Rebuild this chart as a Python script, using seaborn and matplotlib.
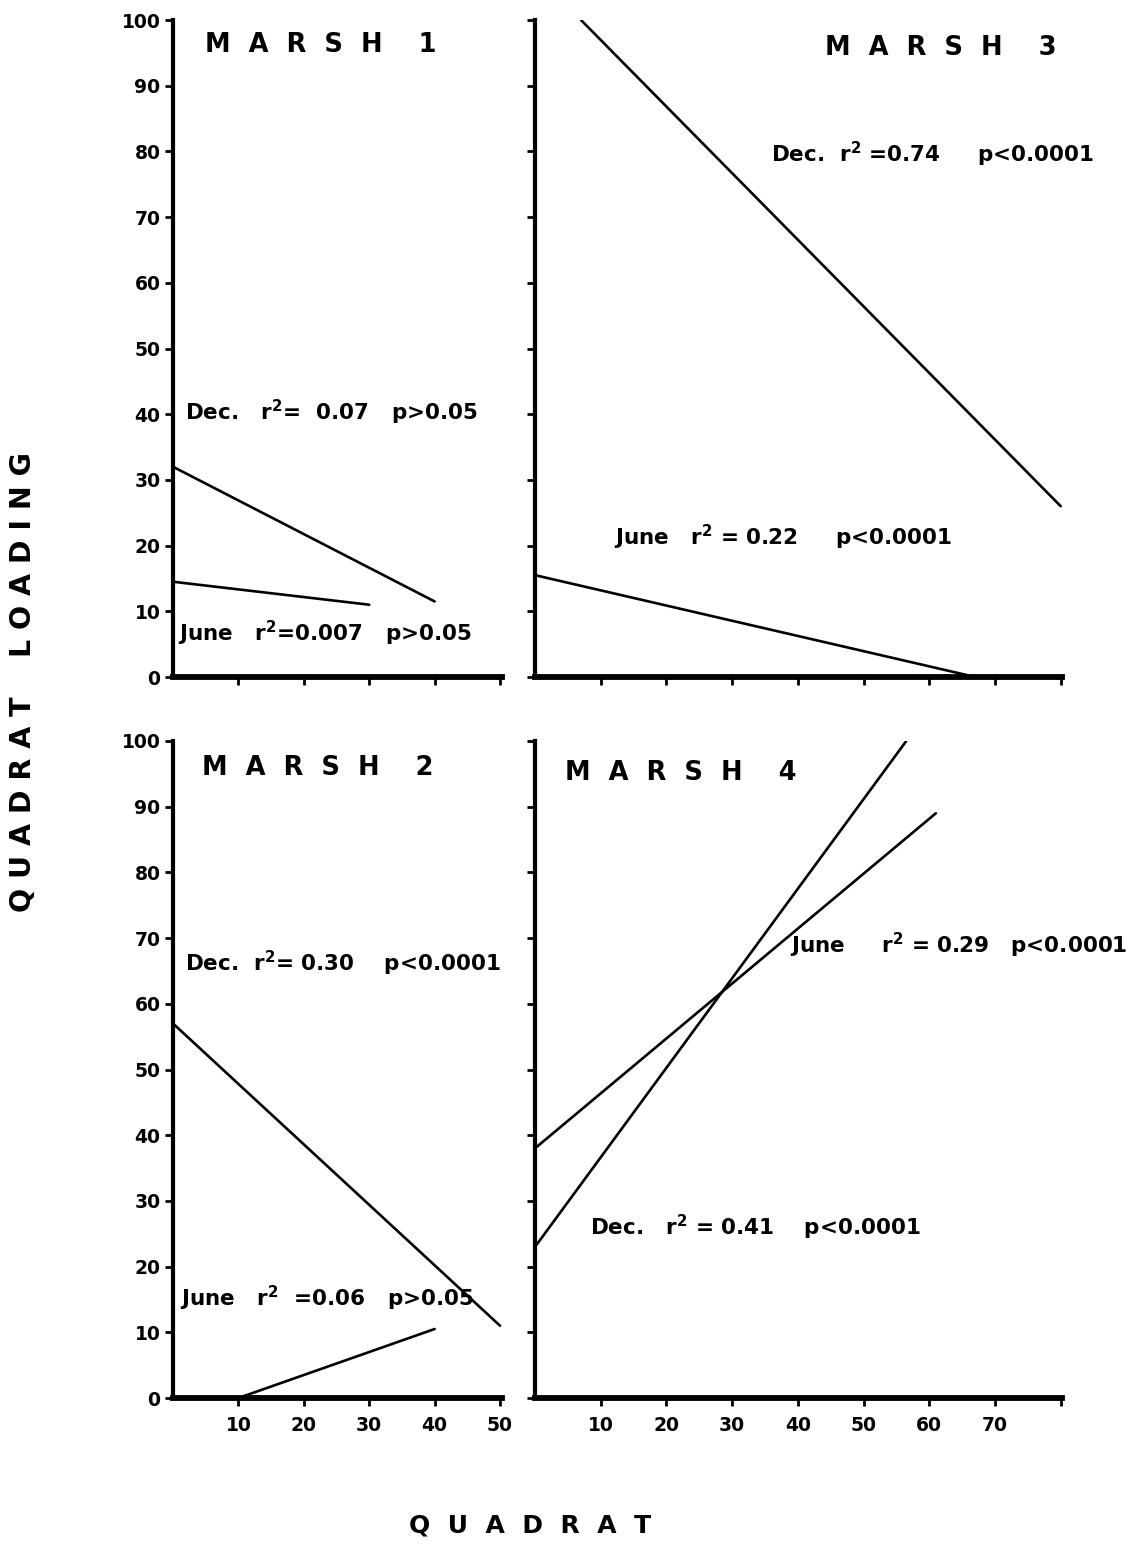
import numpy as np
import pandas as pd
import matplotlib
matplotlib.use("Agg")
import matplotlib.pyplot as plt
import seaborn as sns

# ---------------- data ----------------
marsh1_dec_x = [0, 40]
marsh1_dec_y = [32, 11.5]
marsh1_june_x = [0, 30]
marsh1_june_y = [14.5, 11]

marsh2_dec_x = [0, 50]
marsh2_dec_y = [57, 11]
marsh2_june_x = [10, 40]
marsh2_june_y = [0, 10.5]

marsh3_dec_x = [7, 80]
marsh3_dec_y = [100, 26]
marsh3_june_x = [0, 67]
marsh3_june_y = [15.5, 0]

marsh4_dec_x = [0, 56.5]
marsh4_dec_y = [23, 100]
marsh4_june_x = [0, 61]
marsh4_june_y = [38, 89]

panel_titles = {
    "1": "M  A  R  S  H    1",
    "2": "M  A  R  S  H    2",
    "3": "M  A  R  S  H    3",
    "4": "M  A  R  S  H    4",
}
dec_labels = {
    "1": "Dec.   r$^2$=  0.07   p>0.05",
    "2": "Dec.  r$^2$= 0.30    p<0.0001",
    "3": "Dec.  r$^2$ =0.74     p<0.0001",
    "4": "Dec.   r$^2$ = 0.41    p<0.0001",
}
june_labels = {
    "1": "June   r$^2$=0.007   p>0.05",
    "2": "June   r$^2$  =0.06   p>0.05",
    "3": "June   r$^2$ = 0.22     p<0.0001",
    "4": "June     r$^2$ = 0.29   p<0.0001",
}
yticks = [0, 10, 20, 30, 40, 50, 60, 70, 80, 90, 100]
left_xticks = [10, 20, 30, 40, 50]
right_xticks = [10, 20, 30, 40, 50, 60, 70, 80]
right_xticklabels = ["10", "20", "30", "40", "50", "60", "70", ""]

rows = []
for m, season, xs, ys in [
    ("1", "Dec.", marsh1_dec_x, marsh1_dec_y), ("1", "June", marsh1_june_x, marsh1_june_y),
    ("2", "Dec.", marsh2_dec_x, marsh2_dec_y), ("2", "June", marsh2_june_x, marsh2_june_y),
    ("3", "Dec.", marsh3_dec_x, marsh3_dec_y), ("3", "June", marsh3_june_x, marsh3_june_y),
    ("4", "Dec.", marsh4_dec_x, marsh4_dec_y), ("4", "June", marsh4_june_x, marsh4_june_y),
]:
    for x, y in zip(xs, ys):
        rows.append({"marsh": m, "season": season, "quadrat": x, "loading": y})
df = pd.DataFrame(rows)

# ---------------- style ----------------
sns.set_theme(style="ticks")
plt.rcParams["font.family"] = ["DejaVu Sans"]
plt.rcParams["font.weight"] = "bold"
plt.rcParams["mathtext.fontset"] = "custom"
plt.rcParams["mathtext.rm"] = "DejaVu Sans:bold"
plt.rcParams["mathtext.it"] = "DejaVu Sans:bold"
plt.rcParams["mathtext.bf"] = "DejaVu Sans:bold"
plt.rcParams["mathtext.default"] = "rm"

W, H = 1130, 1546
fig = plt.figure(figsize=(W / 100, H / 100), dpi=100)
fig.patch.set_facecolor("white")

def fx(px):
    return px / W

def fy(py):
    return 1 - py / H

# axes rectangles (left, bottom, width, height) in figure fractions
layout = {
    "1": [fx(173), fy(677), fx(502) - fx(173), (677 - 20) / H],
    "3": [fx(535), fy(677), fx(1062) - fx(535), (677 - 20) / H],
    "2": [fx(173), fy(1398), fx(502) - fx(173), (1398 - 741) / H],
    "4": [fx(535), fy(1398), fx(1062) - fx(535), (1398 - 741) / H],
}
xlims = {"1": (0, 50.3), "2": (0, 50.3), "3": (0, 80.2), "4": (0, 80.2)}

title_pos = {"1": (4.9, 96.2), "2": (4.4, 95.9), "3": (44.1, 95.7), "4": (4.6, 95.1)}
dec_pos = {"1": (1.8, 40.3), "2": (1.8, 66.2), "3": (35.9, 79.5), "4": (8.4, 26.0)}
june_pos = {"1": (0.8, 6.7), "2": (1.1, 15.1), "3": (12.0, 21.3), "4": (38.8, 68.9)}

for m in ["1", "2", "3", "4"]:
    ax = fig.add_axes(layout[m])
    ax.set_facecolor("white")
    sub = df[df["marsh"] == m]
    sns.lineplot(data=sub, x="quadrat", y="loading", hue="season",
                 palette={"Dec.": "black", "June": "black"},
                 estimator=None, sort=True, legend=False, ax=ax,
                 linewidth=1.9)
    ax.set_xlim(*xlims[m])
    ax.set_ylim(0, 100)
    for s in ["top", "right"]:
        ax.spines[s].set_visible(False)
    ax.spines["left"].set_linewidth(3.0)
    ax.spines["bottom"].set_linewidth(4.2)
    ax.spines["left"].set_color("black")
    ax.spines["bottom"].set_color("black")
    ax.set_yticks(yticks)
    if m in ("1", "2"):
        ax.set_xticks(left_xticks)
        ax.set_yticklabels([str(t) for t in yticks])
    else:
        ax.set_xticks(right_xticks)
        ax.set_yticklabels([])
    if m == "2":
        ax.set_xticklabels([str(t) for t in left_xticks])
    elif m == "4":
        ax.set_xticklabels(right_xticklabels)
    else:
        ax.set_xticklabels([])
    ax.tick_params(axis="both", direction="out", length=6, width=2,
                   color="black", labelsize=13.5, labelcolor="black")
    ax.tick_params(axis="y", pad=3)
    ax.tick_params(axis="x", pad=7)
    for lab in ax.get_xticklabels() + ax.get_yticklabels():
        lab.set_fontweight("bold")
    ax.set_xlabel("")
    ax.set_ylabel("")

    ax.text(*title_pos[m], panel_titles[m], fontsize=18.5, fontweight="bold",
            ha="left", va="center", color="black")
    ax.text(*dec_pos[m], dec_labels[m], fontsize=15.5, fontweight="bold",
            ha="left", va="center", color="black")
    ax.text(*june_pos[m], june_labels[m], fontsize=15.5, fontweight="bold",
            ha="left", va="center", color="black")

fig.text(fx(23), fy(682), "Q U A D R A T    L O A D I N G", rotation=90,
         fontsize=20.5, fontweight="bold", ha="center", va="center", color="black")
fig.text(fx(530), fy(1525), "Q  U  A  D  R  A  T", fontsize=18,
         fontweight="bold", ha="center", va="center", color="black")

fig.savefig("out.png", dpi=100, facecolor="white")
